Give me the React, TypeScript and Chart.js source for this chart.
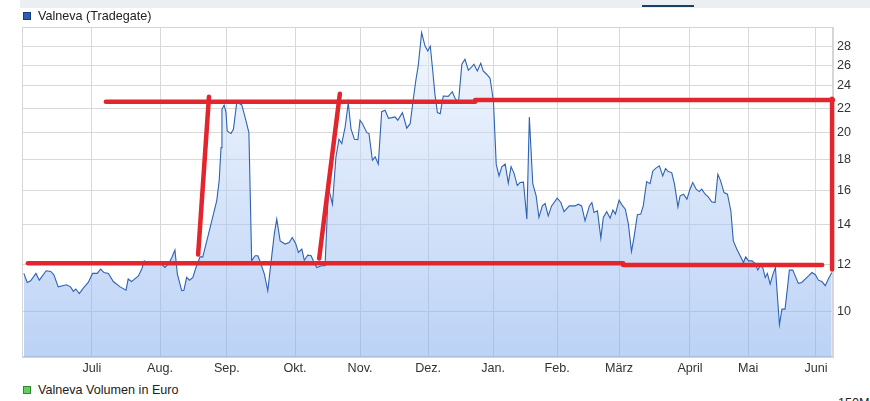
import React, { useEffect, useRef } from "react";
import { Chart, registerables } from "chart.js";

Chart.register(...registerables);

// x = trading-day index since start of window, y = price in EUR
const monthLabels = ["Juli", "Aug.", "Sep.", "Okt.", "Nov.", "Dez.", "Jan.", "Feb.", "März", "April", "Mai", "Juni"];
const monthTicks = [22.6, 44.6, 66.2, 88.2, 109.2, 131.2, 152.2, 172.9, 192.9, 215.8, 234.6, 256.5];
const yTicks = [10, 12, 14, 16, 18, 20, 22, 24, 26, 28];
const xMin = 0;
const xMax = 262;
const yMin = 8.38;
const yMax = 30.15;

const days = [
  0.6, 1.7, 2.8, 4.5, 5.6, 7.8, 9.3, 10.3, 11.7, 14.4,
  15.7, 16.6, 17.4, 18.5, 19.8, 21.4, 22.8, 24.3, 25.4, 26.5,
  27.9, 29.5, 31.7, 33.6, 34.3, 35.4, 37.6, 38.7, 39.5, 40.8,
  43.0, 44.4, 46.2, 47.3, 48.4, 49.4, 50.2, 51.6, 52.3, 53.2,
  54.1, 55.2, 56.2, 57.5, 58.4, 59.7, 61.3, 62.9, 63.7, 64.3,
  64.6, 65.3, 65.9, 66.3, 67.0, 67.5, 68.3, 69.4, 71.0, 72.1,
  73.3, 74.2, 75.3, 76.2, 77.2, 78.3, 79.4, 80.5, 81.5, 82.3,
  83.4, 85.0, 86.3, 87.3, 88.4, 89.3, 90.4, 91.2, 92.3, 93.4,
  94.1, 95.2, 96.8, 97.9, 99.0, 100.3, 101.4, 102.4, 103.3, 104.4,
  105.4, 106.3, 107.4, 108.5, 109.2, 110.0, 111.4, 112.1, 113.2, 114.1,
  115.1, 116.2, 117.3, 118.4, 119.5, 120.5, 121.4, 122.9, 124.3, 125.4,
  126.4, 127.2, 128.0, 129.1, 130.2, 131.1, 131.9, 132.7, 133.4, 134.2,
  135.1, 136.1, 137.7, 139.0, 139.9, 141.0, 142.1, 143.1, 144.2, 145.3,
  146.0, 147.1, 148.2, 149.0, 150.1, 151.2, 152.3, 153.2, 154.1, 155.0,
  156.1, 157.1, 158.0, 159.0, 160.0, 160.9, 162.0, 163.1, 163.9, 165.0,
  166.1, 167.0, 168.1, 169.0, 170.0, 171.1, 172.9, 174.1, 175.1, 176.8,
  178.7, 179.7, 180.8, 181.9, 183.3, 184.1, 184.8, 185.9, 187.0, 187.8,
  188.9, 190.0, 190.9, 191.7, 192.9, 193.8, 194.9, 195.9, 196.9, 197.7,
  198.8, 199.9, 200.7, 201.8, 202.9, 203.8, 204.8, 205.9, 207.0, 207.9,
  208.8, 209.9, 210.8, 211.9, 212.6, 213.7, 214.8, 215.8, 216.7, 217.8,
  218.8, 219.6, 220.7, 221.7, 222.8, 223.9, 224.8, 225.7, 226.8, 227.9,
  229.0, 229.8, 230.9, 232.0, 233.1, 233.8, 234.7, 235.8, 236.8, 237.7,
  238.5, 239.3, 240.1, 240.8, 241.7, 242.6, 243.4, 244.0, 244.7, 245.5,
  246.5, 247.3, 247.9, 249.0, 249.8, 250.8, 251.9, 253.0, 254.1, 255.2,
  256.3, 257.3, 258.4, 259.5, 260.5, 261.6,
];

const prices = [
  11.59, 11.19, 11.26, 11.59, 11.29, 11.71, 11.68, 11.53, 11.0, 11.09,
  11.0, 10.81, 10.91, 10.72, 10.95, 11.19, 11.59, 11.59, 11.79, 11.63,
  11.59, 11.23, 11.0, 10.86, 11.34, 11.23, 11.48, 11.79, 12.17, 12.05,
  12.05, 12.09, 11.86, 12.02, 12.33, 12.69, 11.56, 10.84, 10.86, 11.41,
  11.29, 11.41, 11.86, 12.36, 12.36, 13.15, 14.21, 15.36, 16.6, 18.88,
  21.91, 22.28, 21.63, 20.14, 20.01, 19.94, 20.28, 22.54, 22.28, 21.21,
  20.01, 12.17, 12.41, 12.41, 12.02, 11.56, 10.84, 12.17, 13.5, 14.31,
  13.15, 12.99, 13.07, 13.32, 13.02, 12.57, 12.74, 12.2, 12.44, 12.41,
  12.17, 11.86, 11.94, 11.94, 16.17, 15.16, 18.17, 19.51, 19.18, 20.46,
  22.48, 20.28, 19.51, 19.48, 21.0, 20.72, 20.01, 19.94, 17.98, 18.22,
  17.71, 21.71, 21.83, 21.16, 21.21, 21.27, 21.0, 21.63, 20.36, 20.72,
  22.78, 24.45, 25.92, 29.49, 28.0, 27.47, 28.0, 25.42, 23.22, 21.63,
  21.54, 23.07, 23.04, 23.46, 22.87, 22.48, 26.09, 26.6, 25.49, 25.82,
  26.09, 25.42, 26.19, 25.42, 25.1, 24.71, 22.63, 17.71, 16.92, 17.52,
  17.71, 16.45, 17.54, 17.07, 16.3, 16.49, 16.51, 14.31, 21.27, 16.42,
  15.66, 14.4, 15.06, 15.2, 14.49, 15.06, 15.52, 15.26, 14.73, 15.06,
  15.06, 15.16, 15.06, 14.21, 15.06, 15.26, 14.68, 14.78, 13.29, 14.4,
  14.73, 14.36, 14.82, 14.59, 15.4, 15.12, 14.87, 14.03, 12.62, 13.32,
  14.55, 14.59, 15.06, 16.55, 16.42, 17.25, 17.44, 17.59, 16.92, 17.41,
  17.21, 17.14, 16.39, 15.0, 15.66, 15.76, 15.46, 16.07, 16.49, 16.07,
  15.92, 16.07, 15.76, 15.6, 15.3, 15.26, 17.03, 16.6, 15.86, 15.76,
  14.78, 13.15, 12.74, 12.41, 12.09, 12.36, 12.17, 12.17, 12.05, 11.74,
  11.94, 11.86, 11.41, 11.59, 11.12, 11.56, 11.86, 10.7, 9.5, 10.09,
  10.09, 10.97, 11.74, 11.74, 11.48, 11.15, 11.19, 11.34, 11.48, 11.63,
  11.53, 11.29, 11.23, 11.05, 11.34, 11.63,
];

// Hand-drawn red annotation strokes: [trading day, price] endpoints
const supportLowA = [[1.9, 12.06], [194.2, 12.06]];
const supportLowB = [[194.2, 11.97], [258.5, 11.97]];
const resistanceA = [[27.1, 22.57], [146.4, 22.57]];
const resistanceB = [[146.4, 22.72], [262.0, 22.72]];
const rightEdge = [[261.7, 22.83], [261.7, 11.77]];
const breakout1 = [[56.9, 12.47], [60.4, 23.0]];
const breakout2 = [[96.0, 12.28], [102.7, 23.28]];

const annotationStrokes = [supportLowA, supportLowB, resistanceA, resistanceB, rightEdge, breakout1, breakout2];

const FONT = "'Liberation Sans', Arial, Helvetica, sans-serif";
const FONT_SIZE = 12.6;

export default function App() {
  const canvasRef = useRef<HTMLCanvasElement | null>(null);

  useEffect(() => {
    document.body.style.margin = "0";
    const canvas = canvasRef.current;
    if (!canvas) return;

    const framePlugin = {
      id: "frame",
      beforeDatasetsDraw(chart: any) {
        const { ctx, chartArea: a } = chart;
        ctx.save();
        ctx.strokeStyle = "#d6d6d6";
        ctx.lineWidth = 1;
        ctx.strokeRect(Math.round(a.left) + 0.5, Math.round(a.top) + 0.5, Math.round(a.right - a.left) - 1, Math.round(a.bottom - a.top) - 1);
        ctx.restore();
      },
    };

    const redSets = annotationStrokes.map((seg) => ({
      type: "line" as const,
      data: seg.map(([x, y]) => ({ x, y })),
      borderColor: "#e3252d",
      borderWidth: 4.5,
      borderCapStyle: "round" as const,
      pointRadius: 0,
      fill: false,
      tension: 0,
      order: 0,
      clip: false as any,
    }));

    const chart = new Chart(canvas, {
      type: "line",
      data: {
        datasets: [
          {
            data: days.map((d, i) => ({ x: d, y: prices[i] })),
            borderColor: "#2f63b2",
            borderWidth: 1.1,
            pointRadius: 0,
            tension: 0,
            fill: "start",
            order: 1,
            backgroundColor: (ctx: any) => {
              const a = ctx.chart.chartArea;
              if (!a) return "rgba(160,190,240,0.5)";
              const g = ctx.chart.ctx.createLinearGradient(0, a.top, 0, a.bottom);
              g.addColorStop(0, "rgba(232,240,252,0.5)");
              g.addColorStop(1, "rgba(121,166,237,0.5)");
              return g;
            },
          },
          ...redSets,
        ] as any,
      },
      options: {
        animation: false,
        responsive: false,
        maintainAspectRatio: false,
        events: [],
        layout: { padding: { left: 22, top: 27, right: 0, bottom: 0 } },
        plugins: { legend: { display: false }, tooltip: { enabled: false } },
        scales: {
          x: {
            type: "linear",
            min: xMin,
            max: xMax,
            afterBuildTicks: (s: any) => {
              s.ticks = monthTicks.map((v) => ({ value: v }));
            },
            afterFit: (s: any) => {
              s.height = 23;
            },
            ticks: {
              autoSkip: false,
              maxRotation: 0,
              padding: 4,
              color: "#333",
              font: { family: FONT, size: FONT_SIZE },
              callback: (_v: any, i: number) => monthLabels[i],
            },
            grid: { color: "#d9d9d9", drawTicks: false },
            border: { color: "#d6d6d6" },
          },
          y: {
            type: "logarithmic",
            position: "right",
            min: yMin,
            max: yMax,
            afterBuildTicks: (s: any) => {
              s.ticks = yTicks.map((v) => ({ value: v }));
            },
            afterFit: (s: any) => {
              s.width = 37;
            },
            ticks: {
              padding: 4,
              color: "#333",
              font: { family: FONT, size: FONT_SIZE },
              callback: (v: any) => String(v),
            },
            grid: { color: "#d9d9d9", drawTicks: false },
            border: { color: "#d6d6d6" },
          },
        },
      },
      plugins: [framePlugin],
    });

    return () => chart.destroy();
  }, []);

  const legendText: React.CSSProperties = {
    position: "absolute",
    fontFamily: FONT,
    fontSize: FONT_SIZE,
    color: "#222",
    whiteSpace: "nowrap",
    lineHeight: "14px",
  };

  return (
    <div style={{ position: "absolute", left: 0, top: 0, width: 870, height: 401, overflow: "hidden", background: "#fff" }}>
      <div style={{ position: "absolute", left: 20, top: 0, width: 850, height: 8, background: "#eceff2" }} />
      <div style={{ position: "absolute", left: 642, top: 5, width: 52, height: 2, background: "#1b3e63" }} />
      <canvas ref={canvasRef} width={870} height={380} style={{ position: "absolute", left: 0, top: 0, width: 870, height: 380 }} />
      <div style={{ position: "absolute", left: 23, top: 12, width: 6, height: 6, background: "#2b5fb3", border: "1px solid #173c78" }} />
      <div style={{ ...legendText, left: 38, top: 9 }}>Valneva (Tradegate)</div>
      <div style={{ position: "absolute", left: 23, top: 386, width: 6, height: 6, background: "#5fcf5f", border: "1px solid #2f8a2f" }} />
      <div style={{ ...legendText, left: 38, top: 383 }}>Valneva Volumen in Euro</div>
      <div style={{ ...legendText, left: 838, top: 396 }}>150M</div>
    </div>
  );
}
